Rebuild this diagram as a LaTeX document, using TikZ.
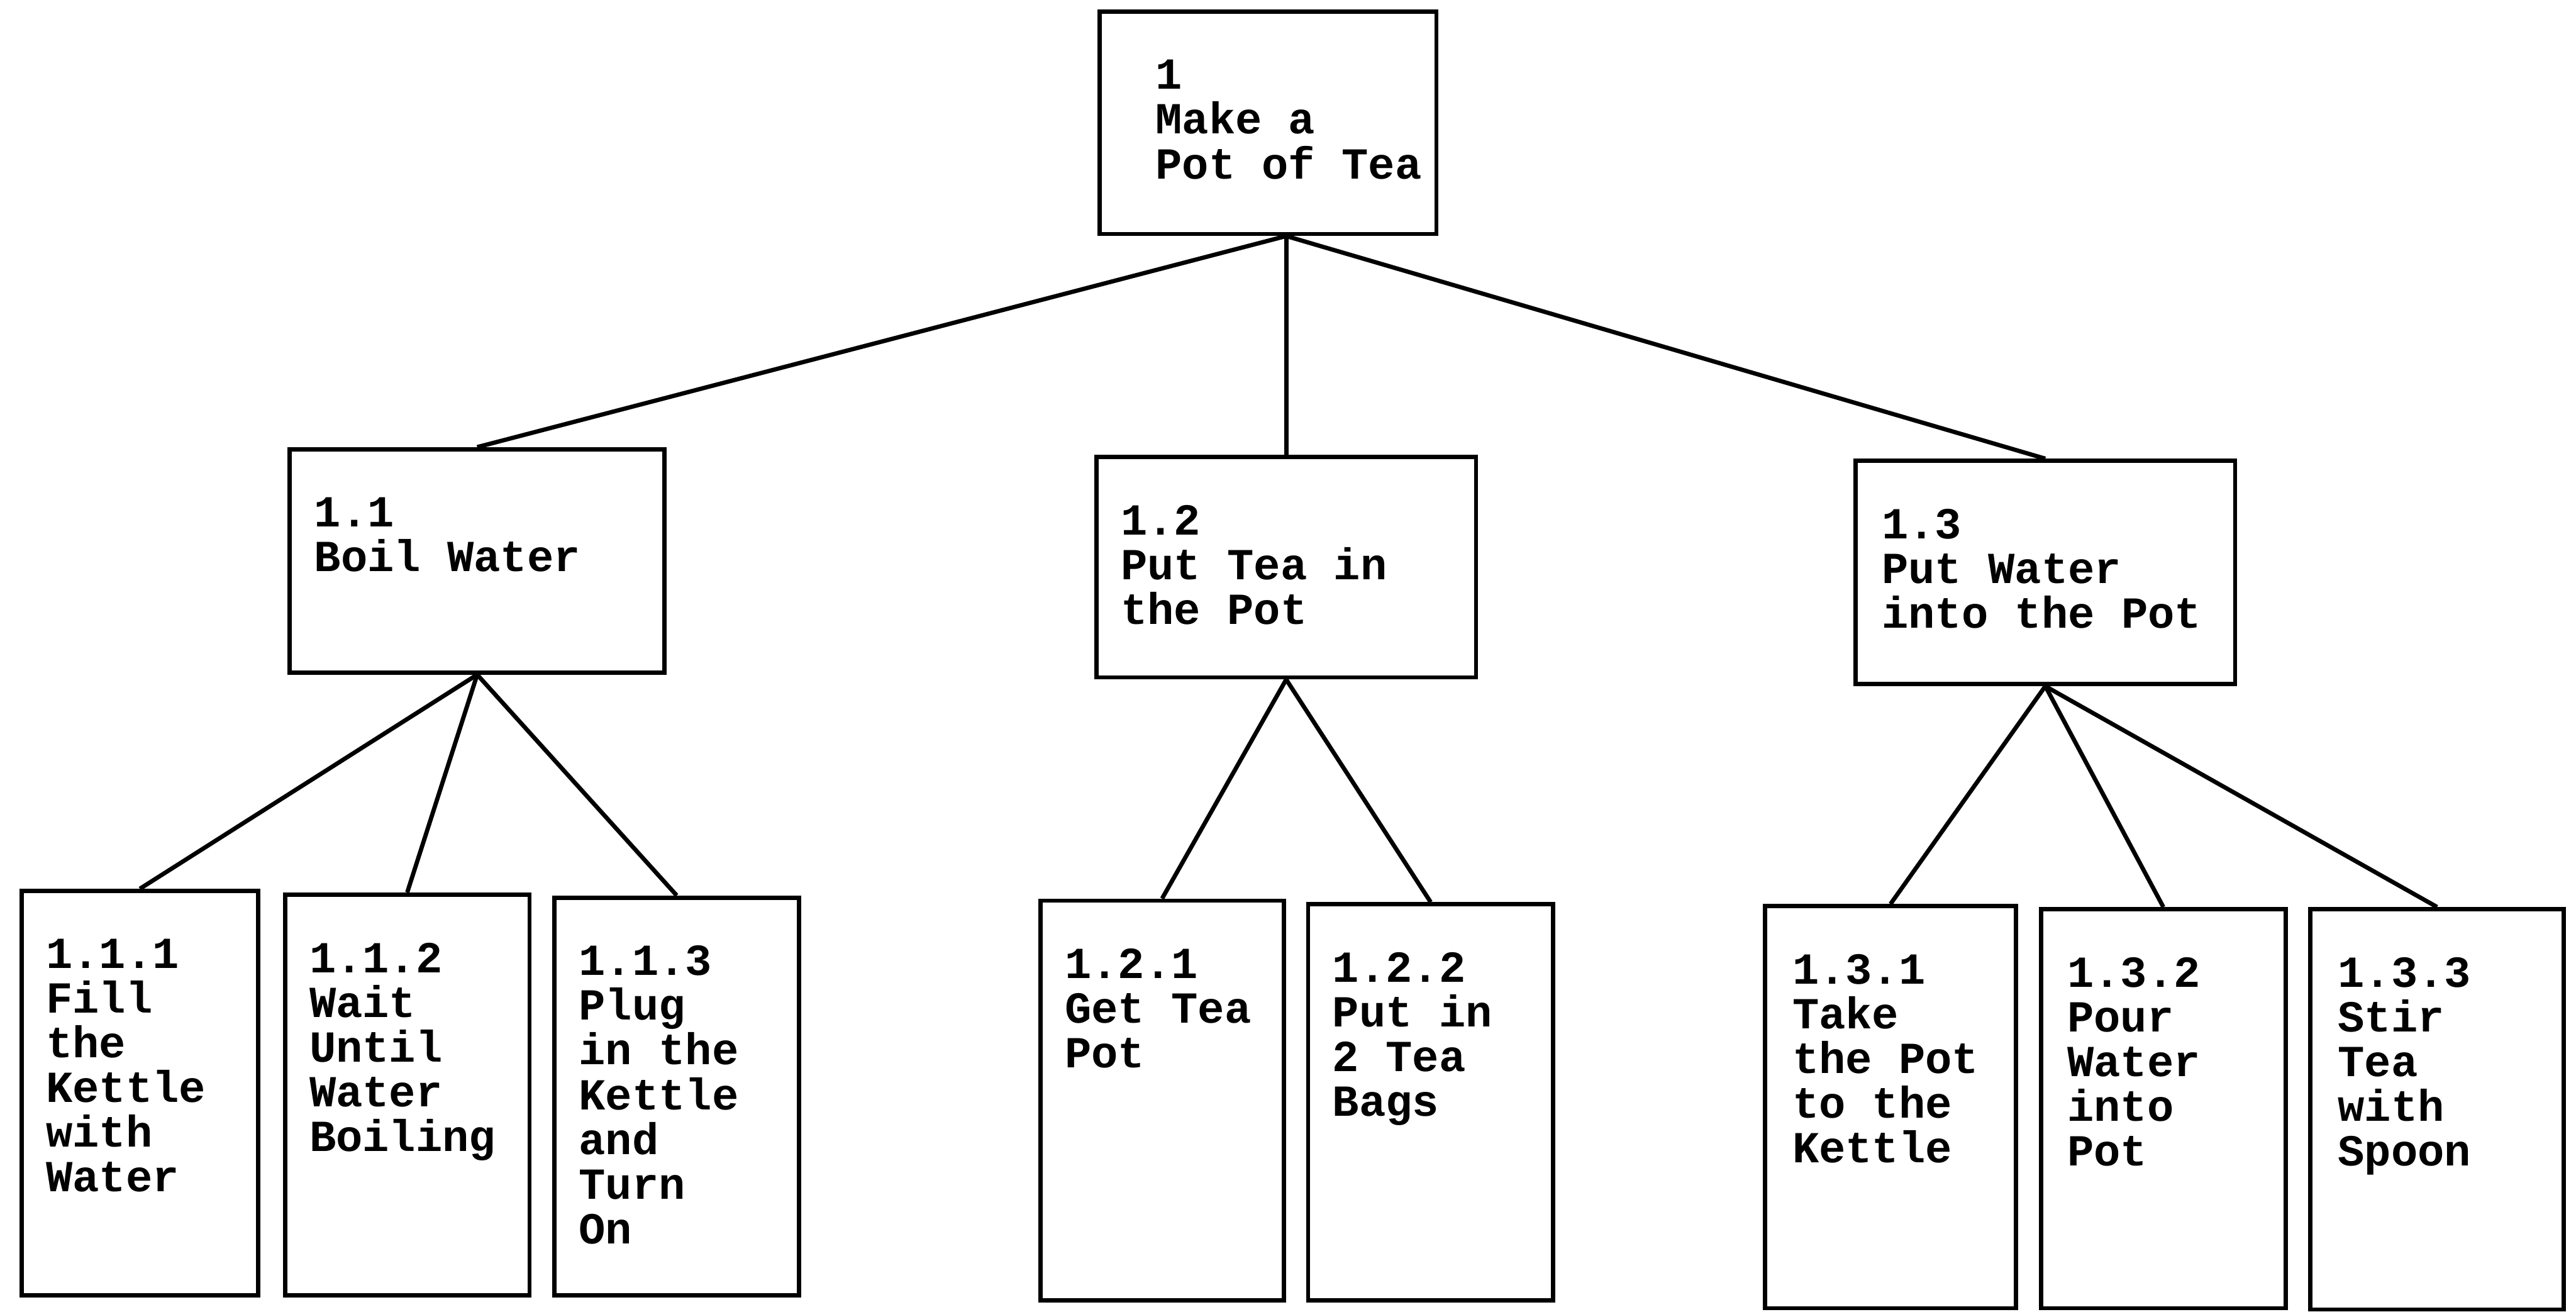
\documentclass[tikz,border=0pt]{standalone}
\usepackage{fontspec}
\setmonofont{Liberation Mono}
\begin{document}
\begin{tikzpicture}[
    task/.style={draw, line width=2pt, inner sep=0pt, anchor=north west},
    txt/.style={font={\ttfamily\bfseries\fontsize{20.75pt}{20.9pt}\selectfont}, align=left, anchor=north west, inner sep=0pt},
    link/.style={line width=2pt}]
	\useasboundingbox (0,0) rectangle (42.35,-21.56);% Fixes the page size
	% top task
	\node[task, minimum width=5.54cm, minimum height=3.65cm] (n1) at (18.04,-0.16) {};
	% second level
	\node[task, minimum width=6.16cm, minimum height=3.67cm] (n11) at (4.73,-7.35) {};
	\node[task, minimum width=6.24cm, minimum height=3.62cm] (n12) at (17.99,-7.48) {};
	\node[task, minimum width=6.24cm, minimum height=3.67cm] (n13) at (30.47,-7.54) {};
	% third level
	\node[task, minimum width=3.89cm, minimum height=6.65cm] (n111) at (0.32,-14.61) {};
	\node[task, minimum width=4.02cm, minimum height=6.59cm] (n112) at (4.65,-14.67) {};
	\node[task, minimum width=4.02cm, minimum height=6.54cm] (n113) at (9.08,-14.72) {};
	\node[task, minimum width=4.00cm, minimum height=6.57cm] (n121) at (17.07,-14.77) {};
	\node[task, minimum width=4.03cm, minimum height=6.51cm] (n122) at (21.47,-14.83) {};
	\node[task, minimum width=4.13cm, minimum height=6.61cm] (n131) at (28.98,-14.86) {};
	\node[task, minimum width=4.02cm, minimum height=6.56cm] (n132) at (33.52,-14.91) {};
	\node[task, minimum width=4.16cm, minimum height=6.58cm] (n133) at (37.95,-14.91) {};

	% texts
	\node[txt] (t1) at ([shift={(0.95,-0.82)}]n1.north west) {1\\Make a\\Pot of Tea};
	\node[txt] (t11) at ([shift={(0.43,-0.82)}]n11.north west) {1.1\\Boil Water};
	\node[txt] (t12) at ([shift={(0.43,-0.82)}]n12.north west) {1.2\\Put Tea in\\the Pot};
	\node[txt] (t13) at ([shift={(0.46,-0.82)}]n13.north west) {1.3\\Put Water\\into the Pot};
	\node[txt] (t111) at ([shift={(0.43,-0.82)}]n111.north west) {1.1.1\\Fill\\the\\Kettle\\with\\Water};
	\node[txt] (t112) at ([shift={(0.43,-0.82)}]n112.north west) {1.1.2\\Wait\\Until\\Water\\Boiling};
	\node[txt] (t113) at ([shift={(0.43,-0.82)}]n113.north west) {1.1.3\\Plug\\in the\\Kettle\\and\\Turn\\On};
	\node[txt] (t121) at ([shift={(0.43,-0.82)}]n121.north west) {1.2.1\\Get Tea\\Pot};
	\node[txt] (t122) at ([shift={(0.43,-0.82)}]n122.north west) {1.2.2\\Put in\\2 Tea\\Bags};
	\node[txt] (t131) at ([shift={(0.48,-0.82)}]n131.north west) {1.3.1\\Take\\the Pot\\to the\\Kettle};
	\node[txt] (t132) at ([shift={(0.46,-0.82)}]n132.north west) {1.3.2\\Pour\\Water\\into\\Pot};
	\node[txt] (t133) at ([shift={(0.48,-0.82)}]n133.north west) {1.3.3\\Stir\\Tea\\with\\Spoon};

	% connectors
	\coordinate (rootfoot) at (n1.south -| n12.north);
	\foreach \c in {n11,n12,n13}{\draw[link] (rootfoot) -- (\c.north);}
	\foreach \c in {n111,n112,n113}{\draw[link] (n11.south) -- (\c.north);}
	\foreach \c in {n121,n122}{\draw[link] (n12.south) -- (\c.north);}
	\foreach \c in {n131,n132,n133}{\draw[link] (n13.south) -- (\c.north);}
\end{tikzpicture}
\end{document}
